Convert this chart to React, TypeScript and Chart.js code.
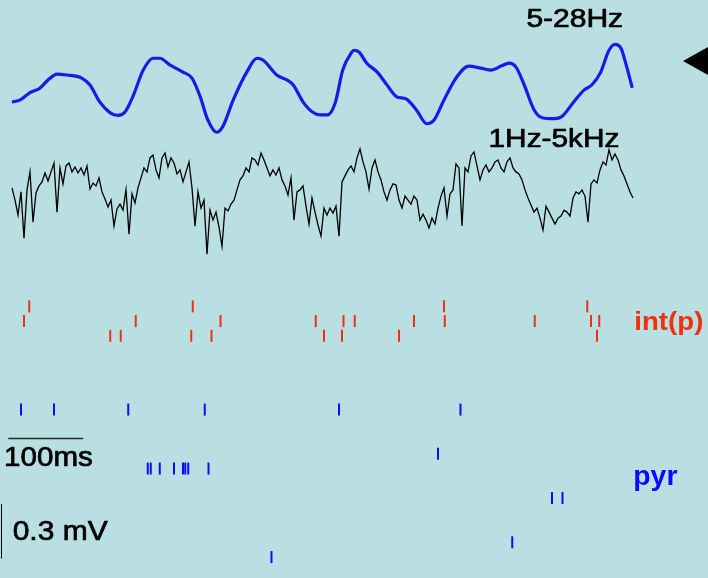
import React, { useEffect, useRef } from "react";
import { Chart, registerables } from "chart.js";

Chart.register(...registerables);

// ---- Data (time in ms, voltage in µV) ----
const thetaTimes = [0,11,24,37,48,60,73,93,104,117,131,141,151,161,175,188,197,211,228,240,251,261,273,281,295,313,327,335,353,367,375,388,400,411,421,431,441,453,456,463,473,487,500,513,525,539,553,563,576,593,609,625,639,652,663,672,683,696,707,723,733,749,763,773,785,796,804,812,819,827];
const thetaValues = [-94,-82,-42,-18,27,60,55,38,0,-93,-153,-167,-147,-65,82,147,147,109,71,38,-65,-191,-260,-229,-82,71,147,136,55,27,0,-93,-147,-164,-164,-98,82,180,191,180,120,71,0,-65,-76,-136,-213,-191,-82,44,104,93,82,104,120,98,0,-136,-180,-185,-174,-93,-27,0,71,191,223,202,109,-16];

// wide-band trace, sampled every rawStepMs from rawStartMs (µV)
const rawStartMs = 0;
const rawStepMs = 4;
const rawValues = [
  39,-28,-110,17,-237,28,127,-149,11,50,
  72,121,77,127,176,-94,149,61,160,176,
  127,154,121,149,110,160,33,66,50,94,
  17,-22,-66,-28,-171,-77,-50,-83,28,-215,
  6,-44,39,94,149,127,204,220,138,94,
  204,231,154,204,176,116,138,72,127,182,
  39,-171,17,-72,-28,-325,-83,-138,-94,-176,
  -281,-72,-88,-50,-28,28,83,105,149,127,
  204,193,165,231,193,149,105,138,110,149,
  83,50,0,94,-138,17,28,50,-61,-160,
  -17,-94,-165,-226,-72,-110,-72,-99,-61,-226,
  72,105,138,160,127,204,253,182,127,33,
  149,193,127,83,17,-28,28,61,55,-28,
  -72,-6,-28,-50,-6,-28,-138,-105,-138,-182,
  -127,-160,-72,-6,39,-116,6,28,171,149,
  -171,149,127,215,237,160,83,138,165,127,
  149,182,193,149,127,182,204,149,127,116,
  83,28,-17,-55,-94,-72,-127,-193,-61,-94,
  -127,-160,-127,-116,-83,-94,-116,-17,17,6,
  28,-6,-149,61,83,66,138,182,165,248,
  193,226,193,138,105,61,17,-17,
];

// spike times (ms) per interneuron cell
const intSpikeTimes = [
  [23, 241, 576, 767],
  [16, 165, 278, 405, 442, 457, 536, 577, 697, 772, 783],
  [131, 145, 239, 266, 416, 440, 516, 780],
];
// spike times (ms) per pyramidal cell (silent cells have no spikes)
const pyrSpikeTimes = [
  [12, 56, 155, 257, 436, 598],
  [],
  [],
  [568],
  [181, 185, 197, 216, 228, 231, 235, 262],
  [],
  [720, 734],
  [],
  [],
  [667],
  [346],
];
const pyrFirstRow = 7;

const scaleBarMs = 100;
const scaleBarUV = 300;

const labels = {
  theta: "5-28Hz",
  raw: "1Hz-5kHz",
  int: "int(p)",
  pyr: "pyr",
  time: "100ms",
  volt: "0.3 mV",
};

const BG = "#b9dfe2";
const THETA_COLOR = "#1a1ae6";
const INT_COLOR = "#f0300f";
const PYR_COLOR = "#0a0aff";

const W = 708;
const H = 578;

function pts(ts: number[], vs: number[]) {
  const n = Math.min(ts.length, vs.length);
  const out: { x: number; y: number }[] = [];
  for (let i = 0; i < n; i++) out.push({ x: ts[i], y: vs[i] });
  return out;
}

function sampled(start: number, step: number, vs: number[]) {
  return vs.map((v, i) => ({ x: start + i * step, y: v }));
}

function raster(cells: number[][], firstRow: number) {
  const out: { x: number; y: number }[] = [];
  cells.forEach((times, i) => times.forEach((t) => out.push({ x: t, y: firstRow + i })));
  return out;
}

function drawText(
  ctx: CanvasRenderingContext2D,
  text: string,
  x: number,
  baseline: number,
  size: number,
  weight: string,
  color: string,
  sx: number,
  stroke: number
) {
  ctx.save();
  ctx.font = `${weight} ${size}px "Liberation Sans", Arial, sans-serif`;
  ctx.fillStyle = color;
  ctx.strokeStyle = color;
  ctx.lineWidth = stroke;
  ctx.lineJoin = "round";
  ctx.textBaseline = "alphabetic";
  ctx.textAlign = "left";
  ctx.translate(x, baseline);
  ctx.scale(sx, 1);
  ctx.fillText(text, 0, 0);
  if (stroke > 0) ctx.strokeText(text, 0, 0);
  ctx.restore();
}

const overlayPlugin = {
  id: "overlay",
  afterDatasetsDraw(chart: any) {
    const ctx: CanvasRenderingContext2D = chart.ctx;
    const xs = chart.scales.x;
    const yr = chart.scales.yRaw;
    const area = chart.chartArea;

    // time scale bar
    const bx0 = xs.getPixelForValue(-5);
    const bx1 = xs.getPixelForValue(-5 + scaleBarMs);
    ctx.save();
    ctx.strokeStyle = "#2a2a2a";
    ctx.lineWidth = 1.5;
    ctx.beginPath();
    ctx.moveTo(bx0, 438.5);
    ctx.lineTo(bx1, 438.5);
    ctx.stroke();

    // voltage scale bar
    const len = Math.abs(yr.getPixelForValue(0) - yr.getPixelForValue(scaleBarUV));
    ctx.strokeStyle = "#000";
    ctx.lineWidth = 1;
    ctx.beginPath();
    ctx.moveTo(1.5, 504);
    ctx.lineTo(1.5, 504 + len);
    ctx.stroke();

    // arrow marker
    ctx.fillStyle = "#000";
    ctx.beginPath();
    ctx.moveTo(area.right - 25, 61);
    ctx.lineTo(area.right, 47);
    ctx.lineTo(area.right, 75);
    ctx.closePath();
    ctx.fill();
    ctx.restore();

    drawText(ctx, labels.theta, 526.4, 27.3, 25, "normal", "#000", 1.2, 0.7);
    drawText(ctx, labels.raw, 488.5, 146.7, 25.5, "normal", "#000", 1.17, 0.7);
    drawText(ctx, labels.int, 634.3, 330, 25.6, "bold", INT_COLOR, 1.08, 0);
    drawText(ctx, labels.pyr, 633.3, 485, 27, "bold", PYR_COLOR, 1.05, 0);
    drawText(ctx, labels.time, 4.1, 466, 27, "normal", "#000", 1.095, 0.7);
    drawText(ctx, labels.volt, 12.7, 540, 28, "normal", "#000", 1.07, 0.7);
  },
};

export default function App() {
  const ref = useRef<HTMLCanvasElement>(null);

  useEffect(() => {
    if (!ref.current) return;
    const chart = new Chart(ref.current, {
      type: "line",
      data: {
        datasets: [
          {
            label: labels.theta,
            data: pts(thetaTimes, thetaValues),
            yAxisID: "yTheta",
            borderColor: THETA_COLOR,
            borderWidth: 3.2,
            pointRadius: 0,
            cubicInterpolationMode: "monotone",
            fill: false,
          },
          {
            label: labels.raw,
            data: sampled(rawStartMs, rawStepMs, rawValues),
            yAxisID: "yRaw",
            borderColor: "#000",
            borderWidth: 1.3,
            pointRadius: 0,
            tension: 0,
            fill: false,
          },
          {
            label: labels.int,
            data: raster(intSpikeTimes, 0),
            yAxisID: "yCells",
            showLine: false,
            pointStyle: "line",
            rotation: 90,
            pointRadius: 6,
            borderWidth: 2,
            borderColor: INT_COLOR,
            backgroundColor: INT_COLOR,
          },
          {
            label: labels.pyr,
            data: raster(pyrSpikeTimes, pyrFirstRow),
            yAxisID: "yCells",
            showLine: false,
            pointStyle: "line",
            rotation: 90,
            pointRadius: 6,
            borderWidth: 2,
            borderColor: PYR_COLOR,
            backgroundColor: PYR_COLOR,
          },
        ],
      } as any,
      options: {
        animation: false,
        responsive: false,
        maintainAspectRatio: false,
        layout: { padding: 0, autoPadding: false },
        events: [],
        plugins: {
          legend: { display: false },
          tooltip: { enabled: false },
          title: { display: false },
        },
        scales: {
          x: { type: "linear", min: -16, max: 928, display: false },
          yTheta: { type: "linear", min: -2711.5, max: 467.5, display: false },
          yRaw: { type: "linear", min: -2106.5, max: 1072.5, display: false },
          yCells: { type: "linear", min: -20.77, max: 18.42, reverse: true, display: false },
        },
      } as any,
      plugins: [overlayPlugin],
    });
    return () => chart.destroy();
  }, []);

  return (
    <div
      style={{
        position: "fixed",
        left: 0,
        top: 0,
        width: W,
        height: H,
        background: BG,
        overflow: "hidden",
      }}
    >
      <canvas ref={ref} width={W} height={H} style={{ display: "block", width: W, height: H }} />
    </div>
  );
}
